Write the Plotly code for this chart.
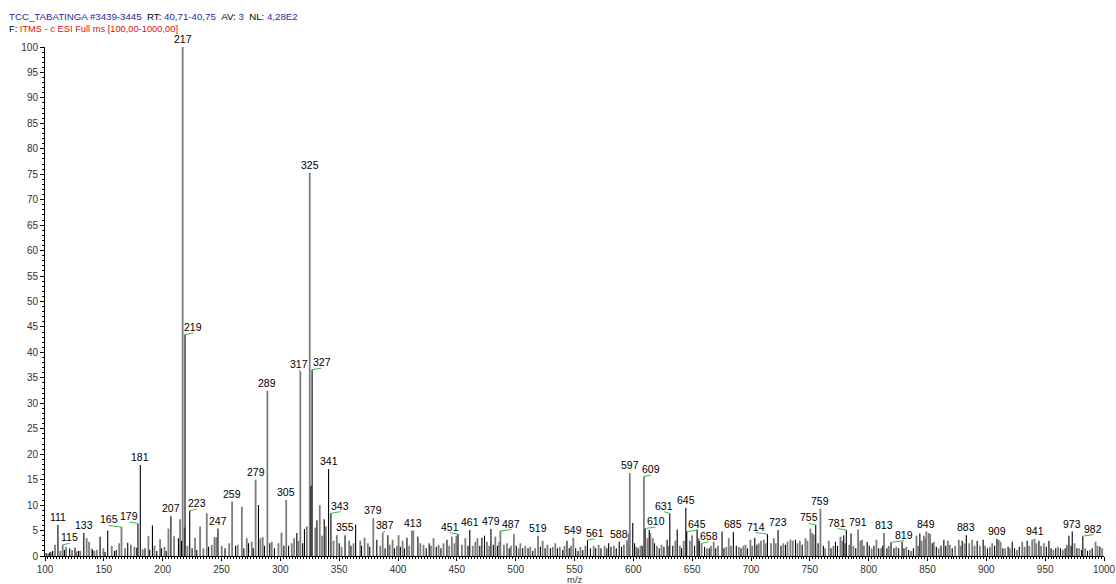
import plotly.graph_objects as go

# ---- spectrum data: m/z and relative abundance (%) ----
# profile peaks (drawn grey)
grey_mz = [102.8, 105, 108.5, 113, 115, 118, 123, 127, 130, 135.4, 137.4, 139.7, 142, 144, 149.6, 156.7, 163, 165,
           168, 173, 176, 183, 187.9, 193, 197.8, 201.5, 204.9, 209.7, 214.8, 217, 218.6, 221, 227.5, 231.8, 234.6,
           237.5, 241.7, 244, 245.6, 250.2, 256.5, 259, 263.8, 267.3, 271.5, 275.7, 279, 283, 285, 289, 292.7, 298.4,
           301, 305, 309.7, 311.7, 315.4, 317, 322.5, 325, 329.7, 333.5, 335.5, 338.7, 345.2, 348, 352, 358.5, 362.2,
           367.9, 371.6, 374.4, 379, 384.9, 387, 393, 395.4, 399, 400.5, 403.9, 409.5, 411.8, 413, 419, 421.7, 428,
           430.2, 434.5, 438.7, 443.5, 445.8, 448, 449.6, 454.3, 457.2, 463.5, 465.7, 467.5, 475.6, 477.5, 482.7, 486,
           487, 490, 492.6, 496, 498.5, 502.5, 504, 508.2, 512.4, 516.5, 519, 522.9, 527, 531.5, 533.7, 537.5, 541.5,
           547, 549, 555, 559.2, 566.3, 570.5, 575.6, 583.5, 592, 594.6, 596, 597, 602.5, 606, 609, 612, 614.5, 616.5,
           620, 624, 630, 635.7, 639.5, 642.8, 648, 649.9, 655.5, 658, 662.5, 666, 668.3, 672, 679, 681.1, 683, 689.6,
           693.5, 695.3, 699.5, 701, 706.6, 708.5, 710.9, 712.5, 717, 719.4, 721, 727.5, 731, 733.5, 735.5, 739.5,
           741.5, 746.3, 748, 750.5, 752, 753.4, 759, 763, 766.1, 770, 776, 777.5, 780, 783.5, 787, 791, 793, 794.4,
           796, 802.5, 806.6, 810.5, 813, 817.1, 823.5, 832, 836, 840.6, 842, 845, 846.9, 848, 849, 851, 852.2, 855.4,
           859.5, 867.3, 869, 873.5, 876.6, 878, 881.5, 885.5, 888, 890, 894.5, 899, 903, 905, 910.5, 912.1, 916, 920,
           926, 930.5, 932.5, 936.5, 939, 941, 942.5, 946.5, 948.9, 957, 961, 965, 968.5, 975, 979, 984, 988, 992.8,
           994.5, 998.5]
grey_int = [0.5, 0.8, 2.2, 1.0, 2.2, 1.8, 1.2, 0.9, 1.0, 3.5, 2.8, 1.5, 1.0, 1.2, 1.5, 2.0, 2.5, 5.7,
            1.5, 2.2, 1.8, 1.3, 3.9, 2.0, 3.3, 1.8, 5.4, 3.9, 7.2, 100, 5.6, 2.0, 3.6, 5.8, 1.5,
            8.4, 2.2, 3.7, 3.7, 2.0, 2.5, 10.7, 2.2, 9.7, 3.5, 2.8, 15.0, 3.5, 3.7, 32.5, 2.8, 2.5,
            4.6, 11.0, 2.5, 3.5, 3.0, 36.3, 5.8, 75.3, 5.6, 10.0, 4.0, 5.8, 3.0, 4.1, 1.8, 3.0, 2.5,
            3.0, 3.6, 2.5, 7.4, 2.0, 4.6, 2.2, 3.2, 2.0, 4.1, 3.0, 2.0, 5.0, 5.0, 2.5, 2.2, 2.0,
            3.5, 2.2, 2.5, 2.0, 3.8, 2.5, 4.0, 2.2, 3.5, 2.0, 2.8, 3.5, 2.8, 2.0, 3.8, 2.8,
            4.9, 2.2, 2.5, 2.0, 4.3, 1.5, 2.5, 2.0, 1.8, 1.5, 4.0, 3.0, 2.2, 1.8, 2.5, 1.8, 2.0,
            2.0, 3.6, 1.8, 2.0, 2.0, 2.2, 2.0, 2.0, 2.2, 3.1, 4.5, 16.3, 1.8, 2.0, 15.6, 3.5, 4.5, 3.5,
            2.0, 2.2, 2.0, 3.0, 2.0, 3.0, 3.0, 4.1, 3.5, 2.5, 1.5, 2.0, 2.8, 2.0, 1.8, 3.5, 2.0, 1.8,
            2.0, 2.2, 3.2, 2.0, 2.5, 3.0, 3.2, 2.5, 2.5, 3.5, 2.5, 2.5, 2.8, 3.2, 3.0, 2.5,
            3.0, 3.5, 3.0, 5.4, 4.5, 4.2, 9.3, 1.5, 3.0, 2.0, 3.8, 3.0, 2.5, 2.2, 2.0, 5.2, 3.0, 3.2,
            2.0, 1.5, 3.2, 1.5, 4.5, 2.0, 1.8, 1.8, 1.0, 4.0, 2.0, 3.0, 4.0, 3.5, 4.8, 4.5, 4.3, 2.8,
            1.5, 3.0, 2.2, 2.0, 3.2, 2.0, 2.5, 2.5, 3.2, 2.0, 2.0, 2.0, 1.8, 2.5, 3.2, 2.8, 1.5, 1.5,
            1.2, 2.8, 1.8, 2.0, 3.2, 3.4, 2.5, 2.0, 2.5, 1.2, 1.8, 1.2, 2.2, 2.5, 1.5, 1.5, 1.2, 2.8,
            2.0, 1.5]

# centroid peaks (drawn black)
black_mz = [101, 104, 106.5, 111, 116.5, 121, 125.5, 128.5, 133, 140.5, 146.8, 151, 153.3, 159, 160.5, 170.3, 178,
            179, 181, 185, 189, 191.3, 195, 199, 203, 207, 213.4, 216, 219, 223, 225, 229, 239, 247, 253, 262, 269,
            273, 277, 281.4, 286.5, 291, 295, 303, 307, 314, 319, 320.5, 326, 327, 331.1, 337.3, 341, 343, 350, 355,
            360, 364, 369, 376, 382, 389, 391.4, 397, 402, 405.5, 407.6, 416.9, 424, 426.5, 432.5, 436.5, 441.6, 451,
            459.5, 461, 469.5, 471.3, 473.5, 479, 481, 484.5, 494.5, 500.5, 506, 510.5, 514.5, 521, 525, 529.5, 535.5,
            540, 543.6, 545.5, 551, 553, 557, 561, 563.5, 568, 572.5, 577.5, 579, 581, 585.5, 588, 590, 599.5, 601,
            604, 607.5, 610, 613.5, 618, 622, 626, 628.7, 631, 633.5, 637.3, 641, 644.6, 645.4, 652, 654.2, 656,
            660.5, 664.5, 670, 675.4, 677, 685, 687.5, 691.5, 697, 703.2, 705, 714, 723, 725.5, 729.3, 737.8, 743.5,
            755, 757, 761.5, 768, 771.8, 773.5, 778.8, 781, 785, 789, 798.7, 800.5, 804.5, 808.5, 812, 815.5, 819,
            821.5, 825.5, 828.4, 830, 834, 838, 843.5, 854, 857.5, 861.5, 863.9, 865.5, 871, 879.5, 883, 892.2,
            897.3, 901, 907, 909, 914, 918.5, 922, 924, 928, 934.7, 944.7, 951, 953.2, 955, 959, 963, 967, 970.2,
            972, 973, 977, 981, 982, 986, 990, 996.5]
black_int = [0.6, 0.7, 1.0, 6.1, 1.2, 1.5, 1.6, 1.0, 4.5, 1.2, 3.8, 0.8, 5.0, 1.0, 1.2, 2.6, 1.6,
             6.4, 17.9, 1.5, 1.2, 6.0, 1.0, 1.5, 1.0, 7.8, 3.5, 3.0, 43.5, 8.9, 1.5, 1.2, 1.8, 5.4, 1.5, 2.0, 1.5,
             2.5, 1.5, 10.0, 2.0, 2.5, 1.5, 2.0, 2.0, 4.5, 2.5, 5.3, 13.8, 36.6, 7.0, 7.2, 17.1, 8.4, 2.5, 4.1,
             2.0, 6.2, 2.0, 1.8, 3.2, 1.5, 4.1, 1.5, 1.8, 1.5, 3.6, 3.8, 1.5, 2.5, 1.8, 1.5, 3.2, 4.3,
             2.0, 5.1, 2.0, 3.6, 4.0, 5.3, 2.2, 2.0, 1.5, 2.0, 1.5, 1.5, 1.0, 1.8, 1.5, 1.5, 1.5,
             1.2, 3.0, 1.5, 1.5, 1.0, 1.2, 3.1, 1.5, 1.5, 1.5, 1.5, 2.5, 1.8, 1.5, 2.8, 1.8, 6.5, 2.5,
             1.5, 2.0, 5.4, 5.1, 2.5, 1.5, 1.8, 3.2, 8.4, 2.0, 5.2, 1.5, 9.5, 4.8, 2.0, 5.2, 3.0,
             1.8, 1.5, 1.5, 4.8, 1.5, 4.7, 2.0, 1.5, 1.5, 3.6, 2.2, 4.3, 5.1, 2.0, 2.2, 3.2, 2.2,
             6.1, 2.5, 2.0, 1.5, 2.8, 2.0, 4.1, 5.1, 4.4, 1.5, 2.8, 2.0, 2.0, 1.5, 2.0, 1.5, 2.7,
             1.5, 1.5, 2.8, 1.5, 1.2, 1.5, 4.4, 2.5, 1.8, 2.0, 3.2, 2.0, 1.5, 3.0, 4.1, 3.0,
             3.2, 1.5, 2.0, 3.4, 1.5, 1.8, 2.8, 1.5, 1.8, 3.0, 3.0, 1.8, 3.0, 1.5, 1.5, 1.5, 1.5, 4.0,
             2.0, 4.8, 1.5, 1.2, 3.9, 1.0, 1.5, 1.8]

# annotated peaks (m/z of the peak apex)
label_mz = [111, 115, 133, 165, 179, 181, 207, 217, 219, 223, 247, 259, 279, 289, 305, 317, 325, 327, 341, 343,
            355, 379, 387, 413, 451, 461, 479, 487, 519, 549, 561, 588, 597, 609, 610, 631, 644.6, 645.4, 658,
            685, 714, 723, 755, 759, 781, 791, 813, 819, 849, 883, 909, 941, 973, 982]

# labels moved sideways (in m/z) and tied to their peak with a leader
label_shift = {115: 6, 165: -11, 179: -7.5, 219: 7, 223: 6, 317: -1.5, 327: 8, 343: 8, 387: 2, 451: -7,
               487: 9, 561: 6, 609: 6, 610: 9, 631: -5, 645.4: 9, 658: 6, 714: -10, 755: -6, 781: -7.5,
               819: 11, 982: 9}

FONT = "Arial, Liberation Sans, sans-serif"
GREY = "#7d7d7d"
LEADER = "#3dbb3d"
BLUE = "#2b2b9c"


def sticks(mz, inten):
    """Vertical stick segments from the baseline to each apex."""
    xs, ys = [], []
    for m, i in zip(mz, inten):
        xs += [m, m, None]
        ys += [0, i, None]
    return xs, ys


fig = go.Figure()
gx, gy = sticks(grey_mz, grey_int)
bx, by = sticks(black_mz, black_int)
fig.add_trace(go.Scatter(x=gx, y=gy, mode="lines", line=dict(color=GREY, width=1.8), hoverinfo="skip"))
fig.add_trace(go.Scatter(x=bx, y=by, mode="lines", line=dict(color="#000000", width=1.1), hoverinfo="skip"))

# intensity lookup for the labelled apexes
apex = dict(zip(grey_mz, grey_int))
apex.update({m: i for m, i in zip(black_mz, black_int) if m not in apex or i > apex[m]})

lead_x, lead_y = [], []
for m in label_mz:
    h = apex[m]
    dx = label_shift.get(m, 0)
    rise = 0.3 if dx else 0.0
    if dx:
        lead_x += [m, m + dx, None]
        lead_y += [h, h + rise, None]
    fig.add_annotation(x=m + dx, y=h + rise, text=str(round(m)), showarrow=False,
                       xanchor="center", yanchor="bottom", yshift=-2 if dx else 0,
                       font=dict(family=FONT, size=10.5, color="#000000"))

fig.add_trace(go.Scatter(x=lead_x, y=lead_y, mode="lines", line=dict(color=LEADER, width=1),
                         hoverinfo="skip"))

# scan header
fig.add_annotation(xref="paper", yref="paper", x=-0.036, y=1, xanchor="left", yanchor="middle", yshift=31,
                   showarrow=False, align="left",
                   text=(f"<span style='color:{BLUE}'>TCC_TABATINGA #3439-3445</span>&nbsp;&nbsp;"
                         f"RT: <span style='color:{BLUE}'>40,71-40,75</span>&nbsp;&nbsp;"
                         f"AV: <span style='color:{BLUE}'>3</span>&nbsp;&nbsp;"
                         f"NL: <span style='color:{BLUE}'>4,28E2</span>"),
                   font=dict(family=FONT, size=9.7, color="#000000"))
fig.add_annotation(xref="paper", yref="paper", x=-0.036, y=1, xanchor="left", yanchor="middle", yshift=18,
                   showarrow=False, align="left",
                   text="F: <span style='color:#e01010'>ITMS - c ESI Full ms [100,00-1000,00]</span>",
                   font=dict(family=FONT, size=9.3, color="#000000"))
# x-axis title
fig.add_annotation(xref="x", yref="paper", x=550.5, y=0, xanchor="center", yanchor="top", yshift=-16,
                   showarrow=False, text="m/z", font=dict(family=FONT, size=9.5, color="#333333"))

axis_common = dict(showline=True, linecolor="#000000", linewidth=1, ticks="outside", tickcolor="#000000",
                   ticklen=4, tickwidth=1, showgrid=False, zeroline=False, automargin=False,
                   tickfont=dict(family=FONT, size=10, color="#333333"))

fig.update_layout(
    width=1116, height=584,
    margin=dict(l=45, r=12, t=47, b=28, autoexpand=False),
    paper_bgcolor="#ffffff", plot_bgcolor="#ffffff",
    showlegend=False,
    xaxis=dict(range=[100, 1000], dtick=50, tick0=100,
               minor=dict(dtick=2.5, ticklen=2, ticks="outside", tickcolor="#000000"), **axis_common),
    yaxis=dict(range=[0, 100], dtick=5, tick0=0,
               minor=dict(dtick=1, ticklen=2.5, ticks="outside", tickcolor="#000000"), **axis_common),
)

fig.write_html("out.html")
